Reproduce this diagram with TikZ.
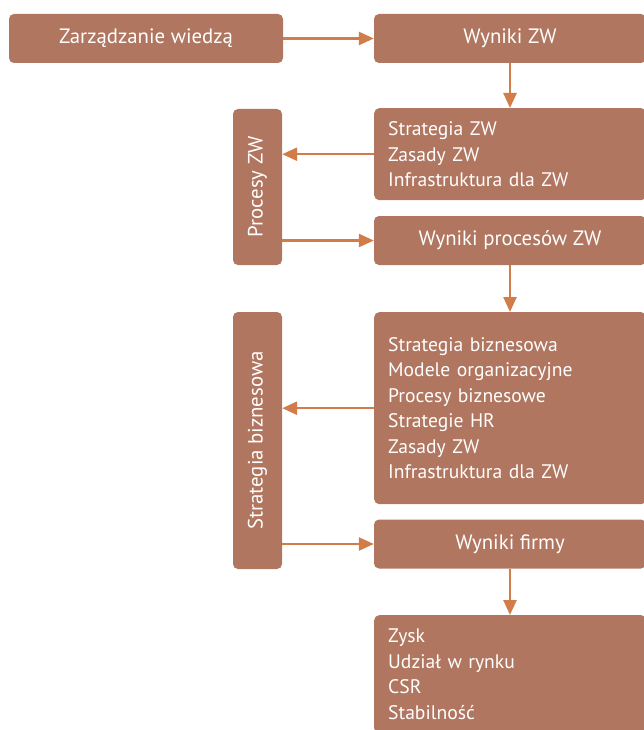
\documentclass[tikz,border=0pt]{standalone}
\usepackage{fontspec}
\setmainfont{PT Sans}
\usetikzlibrary{arrows.meta}
\definecolor{boxfill}{HTML}{B07660}
\definecolor{arrowcol}{HTML}{D27C4A}
\begin{document}
\begin{tikzpicture}[x=1pt,y=-1pt,
  box/.style={fill=boxfill, rounded corners=5pt, text=white, inner sep=0pt,
    font=\fontsize{20.8}{25.5}\selectfont},
  titlebox/.style={box, minimum height=49pt},
  listbox/.style={box, anchor=north west, inner xsep=14pt, text width=244pt,
    align=left, font=\fontsize{19.6}{25.5}\selectfont},
  sidebox/.style={box, rotate=90, minimum height=49pt},
  link/.style={draw=arrowcol, line width=2.5pt,
    -{Triangle[length=15pt,width=13pt]}}]
\useasboundingbox (0,0) rectangle (643,730);

% top row
\node[titlebox, minimum width=274pt] (zw) at (146,38.5) {Zarządzanie wiedzą};
\node[titlebox, minimum width=272pt] (wzw) at (510,38.5) {Wyniki ZW};

% knowledge-management block
\node[listbox, minimum height=92pt] (szw) at (374,108)
  {Strategia ZW\\Zasady ZW\\Infrastruktura dla ZW};
\node[sidebox, minimum width=156pt] (pzw) at (257.5,187) {Procesy ZW};
\node[titlebox, minimum width=272pt] (wpzw) at (510,240.5) {Wyniki procesów ZW};

% business block
\node[listbox, minimum height=192pt] (sb) at (374,312)
  {Strategia biznesowa\\Modele organizacyjne\\Procesy biznesowe\\Strategie HR\\Zasady ZW\\Infrastruktura dla ZW};
\node[sidebox, minimum width=257pt] (strb) at (257.5,440.5) {Strategia biznesowa};
\node[titlebox, minimum width=272pt] (wf) at (510,544) {Wyniki firmy};

% results
\node[listbox, minimum height=118pt] (res) at (374,615)
  {Zysk\\Udział w rynku\\CSR\\Stabilność};

% connectors
\draw[link] (zw.east) -- (wzw.west);
\draw[link] (wzw.south) -- (szw.north -| wzw.south);
\draw[link] (szw.west) -- (szw.west -| pzw.south);
\draw[link] (wpzw.west -| pzw.south) -- (wpzw.west);
\draw[link] (wpzw.south) -- (sb.north -| wpzw.south);
\draw[link] (sb.west) -- (sb.west -| strb.south);
\draw[link] (wf.west -| strb.south) -- (wf.west);
\draw[link] (wf.south) -- (res.north -| wf.south);
\end{tikzpicture}
\end{document}
